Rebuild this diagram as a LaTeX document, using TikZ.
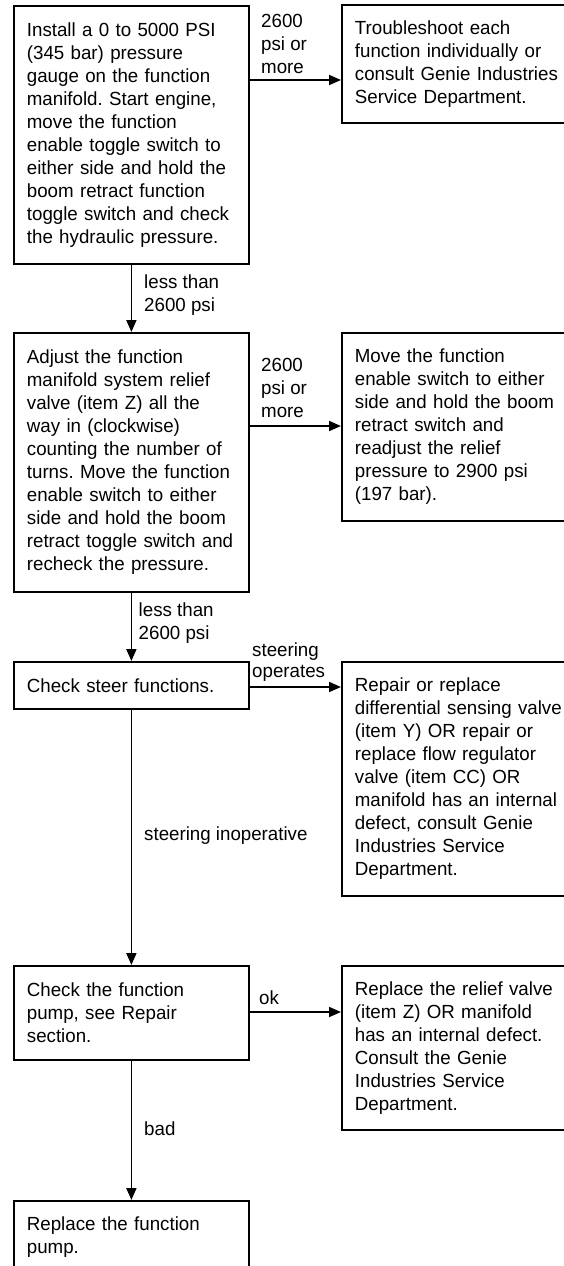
\documentclass[tikz,border=0pt]{standalone}
\usepackage{fontspec}
\setmainfont{Liberation Sans}[FakeStretch=0.985]
\usetikzlibrary{arrows.meta}
\frenchspacing

\begin{document}
\begin{tikzpicture}[x=1pt,y=-1pt,
    box/.style={draw,line width=1.8pt,anchor=north west,align=left,inner xsep=13pt,inner ysep=0pt,
        font=\fontsize{19}{23}\selectfont},
    lbox/.style={box,text width=209pt},
    rbox/.style={box,text width=216pt},
    lbl/.style={anchor=west,align=left,inner sep=0pt,font=\fontsize{19}{23}\selectfont},
    arr/.style={line width=1.8pt,-{Triangle[length=12pt,width=10pt]}}]
\useasboundingbox (0,0) rectangle (564,1266);
\clip (0,0) rectangle (564,1266);
% left column
\node[lbox,minimum height=258pt] (b1) at (13,5) {Install a 0 to 5000 PSI\\(345 bar) pressure\\gauge on the function\\manifold. Start engine,\\move the function\\enable toggle switch to\\either side and hold the\\boom retract function\\toggle switch and check\\the hydraulic pressure.};
\node[lbox,minimum height=259pt] (b3) at (13,332) {Adjust the function\\manifold system relief\\valve (item Z) all the\\way in (clockwise)\\counting the number of\\turns. Move the function\\enable switch to either\\side and hold the boom\\retract toggle switch and\\recheck the pressure.};
\node[lbox,minimum height=47pt] (b5) at (13,661) {Check steer functions.};
\node[lbox,minimum height=94pt] (b7) at (13,965) {Check the function\\pump, see Repair\\section.};
\node[lbox,minimum height=72pt] (b9) at (13,1200) {Replace the function\\pump.};
% right column
\node[rbox,minimum height=118pt] (b2) at (341,4) {Troubleshoot each\\function individually or\\consult Genie Industries\\Service Department.};
\node[rbox,minimum height=188pt] (b4) at (341,332) {Move the function\\enable switch to either\\side and hold the boom\\retract switch and\\readjust the relief\\pressure to 2900 psi\\(197 bar).};
\node[rbox,minimum height=234pt] (b6) at (341,661) {Repair or replace\\differential sensing valve\\(item Y) OR repair or\\replace flow regulator\\valve (item CC) OR\\manifold has an internal\\defect, consult Genie\\Industries Service\\Department.};
\node[rbox,minimum height=164pt] (b8) at (341,965) {Replace the relief valve\\(item Z) OR manifold\\has an internal defect.\\Consult the Genie\\Industries Service\\Department.};
% connectors
\draw[arr] ([yshift=-75pt]b1.north east) -- ([yshift=-76pt]b2.north west);
\draw[arr] ([yshift=-94pt]b3.north east) -- ([yshift=-94pt]b4.north west);
\draw[arr] ([yshift=-26pt]b5.north east) -- ([yshift=-26pt]b6.north west);
\draw[arr] ([yshift=-47pt]b7.north east) -- ([yshift=-47pt]b8.north west);
\draw[arr] (b1.south) -- (b3.north);
\draw[arr] (b3.south) -- (b5.north);
\draw[arr] (b5.south) -- (b7.north);
\draw[arr] (b7.south) -- (b9.north);
% labels
\node[lbl] (l1) at (261,43.5) {2600\\psi or\\more};
\node[lbl] (l2) at (144,295) {less than\\2600 psi};
\node[lbl] (l3) at (261,387.5) {2600\\psi or\\more};
\node[lbl] (l4) at (138.5,623.5) {less than\\2600 psi};
\node[lbl,font=\fontsize{19}{21}\selectfont] (l5) at (252,662.5) {steering\\operates};
\node[lbl] (l6) at (144,836) {steering inoperative};
\node[lbl] (l7) at (259,998) {ok};
\node[lbl] (l8) at (144,1129) {bad};
\end{tikzpicture}
\end{document}
